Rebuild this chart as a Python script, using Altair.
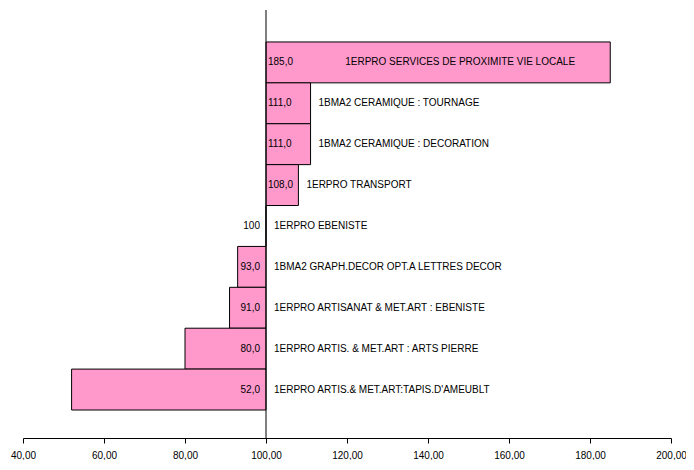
import altair as alt
import pandas as pd

categories = [
    "1ERPRO SERVICES DE PROXIMITE VIE LOCALE",
    "1BMA2 CERAMIQUE : TOURNAGE",
    "1BMA2 CERAMIQUE : DECORATION",
    "1ERPRO TRANSPORT",
    "1ERPRO EBENISTE",
    "1BMA2  GRAPH.DECOR OPT.A LETTRES DECOR",
    "1ERPRO ARTISANAT & MET.ART : EBENISTE",
    "1ERPRO ARTIS. & MET.ART : ARTS PIERRE",
    "1ERPRO ARTIS.& MET.ART:TAPIS.D'AMEUBLT",
]
values = [185.0, 111.0, 111.0, 108.0, 100.0, 93.0, 91.0, 80.0, 52.0]
baseline = 100
x_ticks = [40, 60, 80, 100, 120, 140, 160, 180, 200]

df = pd.DataFrame({"cat": categories, "value": values})
df["base"] = baseline

FONT = "Liberation Sans"
FS = 10

y_enc = alt.Y("cat:N", sort=categories, axis=None,
              scale=alt.Scale(paddingInner=0, paddingOuter=0.733, align=0.533))
x_scale = alt.Scale(domain=[40, 200], nice=False, zero=False)

base = alt.Chart(df)

bars = base.mark_bar(color="#FF99CC", stroke="black", strokeWidth=1).encode(
    y=y_enc,
    x=alt.X("value:Q", scale=x_scale,
            axis=alt.Axis(values=x_ticks, title=None, grid=False,
                          labelExpr="replace(format(datum.value, '.2f'), '.', ',')",
                          domainColor="black", tickColor="black", tickSize=5,
                          labelColor="black", labelFont=FONT, labelFontSize=FS,
                          labelPadding=7, labelFlush=False, labelOverlap=False)),
    x2="base:Q",
)

vline = alt.Chart(pd.DataFrame({"b": [baseline]})).mark_rule(color="black", strokeWidth=1).encode(
    x=alt.X("b:Q", scale=x_scale)
)

lab_expr = "datum.value == 100 ? '100' : replace(format(datum.value, '.1f'), '.', ',')"

val_above = base.transform_filter("datum.value > 100").transform_calculate(
    lab=lab_expr
).mark_text(align="left", dx=2, font=FONT, fontSize=FS, color="black").encode(
    y=y_enc, x=alt.X("base:Q", scale=x_scale), text="lab:N"
)

val_below = base.transform_filter("datum.value <= 100").transform_calculate(
    lab=lab_expr
).mark_text(align="right", dx=-6, font=FONT, fontSize=FS, color="black").encode(
    y=y_enc, x=alt.X("base:Q", scale=x_scale), text="lab:N"
)

cat_normal = base.transform_filter("datum.value <= 150").transform_calculate(
    lx="max(datum.value, 100)"
).mark_text(align="left", dx=8, font=FONT, fontSize=FS, color="black").encode(
    y=y_enc, x=alt.X("lx:Q", scale=x_scale), text="cat:N"
)

cat_long = base.transform_filter("datum.value > 150").transform_calculate(
    lx="(datum.value + datum.base) / 2"
).mark_text(align="center", dx=22, font=FONT, fontSize=FS, color="black").encode(
    y=y_enc, x=alt.X("lx:Q", scale=x_scale), text="cat:N"
)

chart = alt.layer(bars, vline, val_above, val_below, cat_normal, cat_long).properties(
    width=648, height=428,
    background="white",
    autosize=alt.AutoSizeParams(type="none"),
    padding={"left": 15, "top": 2, "right": 15, "bottom": 22},
).configure_view(strokeWidth=0, stroke=None)

chart.save("out.html", embed_options={"renderer": "svg", "actions": False})
